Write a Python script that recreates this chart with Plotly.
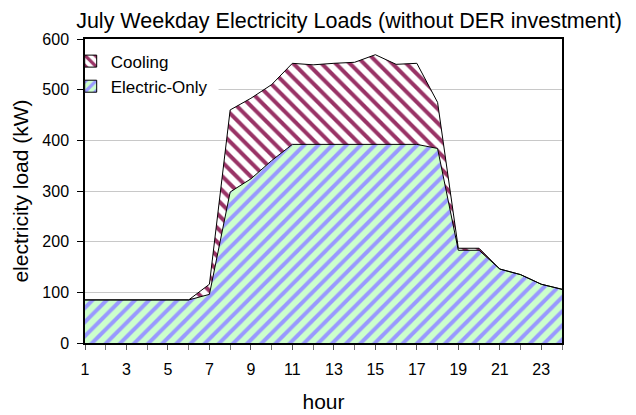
import plotly.graph_objects as go

hours = list(range(1, 25))
electric_only = [85, 85, 85, 85, 85, 85, 96, 298, 324, 360, 392, 392,
                 392, 392, 392, 392, 392, 384, 183, 183, 146, 135, 116, 106]
cooling = [0, 0, 0, 0, 0, 0, 20, 162, 159, 150, 160, 157,
           160, 162, 177, 158, 160, 91, 4, 4, 0, 0, 0, 0]
x_tick_labels = [str(h) for h in range(1, 24, 2)]
y_ticks = [0, 100, 200, 300, 400, 500, 600]

COOL_FG, COOL_BG = "#993366", "#FFFFFF"
ELEC_FG, ELEC_BG = "#9999FF", "#CCFFCC"

fig = go.Figure()
fig.add_trace(go.Scatter(
    x=hours, y=electric_only, name="Electric-Only", mode="lines",
    stackgroup="one", line=dict(color="black", width=1),
    fillcolor=ELEC_BG, showlegend=False,
    fillpattern=dict(shape="/", bgcolor=ELEC_BG, fgcolor=ELEC_FG,
                     fgopacity=1, size=10, solidity=0.4),
))
fig.add_trace(go.Scatter(
    x=hours, y=cooling, name="Cooling", mode="lines",
    stackgroup="one", line=dict(color="black", width=1),
    fillcolor=COOL_BG, showlegend=False,
    fillpattern=dict(shape="\\", bgcolor=COOL_BG, fgcolor=COOL_FG,
                     fgopacity=1, size=10, solidity=0.4),
))
# legend-only entries (square patterned swatches)
fig.add_trace(go.Bar(
    x=[None], y=[None], name="Cooling",
    marker=dict(color=COOL_BG, line=dict(color="black", width=1),
                pattern=dict(shape="\\", bgcolor=COOL_BG, fgcolor=COOL_FG,
                             fgopacity=1, size=9, solidity=0.45)),
))
fig.add_trace(go.Bar(
    x=[None], y=[None], name="Electric-Only",
    marker=dict(color=ELEC_BG, line=dict(color="black", width=1),
                pattern=dict(shape="/", bgcolor=ELEC_BG, fgcolor=ELEC_FG,
                             fgopacity=1, size=9, solidity=0.45)),
))

fig.update_layout(
    width=628, height=407,
    margin=dict(l=77, r=74, t=31, b=72, autoexpand=False),
    paper_bgcolor="white", plot_bgcolor="white",
    font=dict(family="Liberation Sans, Arial, sans-serif", size=17, color="black"),
    title=dict(text="July Weekday Electricity Loads (without DER investment)",
               x=0.543, xanchor="center", y=0.9705, yanchor="middle",
               font=dict(size=21.5)),
    showlegend=True,
    legend=dict(x=-0.03, y=0.985, xanchor="left", yanchor="top",
                traceorder="normal", bgcolor="rgba(0,0,0,0)",
                font=dict(size=17), itemwidth=30),
    shapes=[dict(type="rect", xref="paper", yref="paper", x0=0.003, x1=0.28,
                 y0=0.8, y1=0.99, fillcolor="white", line=dict(width=0),
                 layer="above")],
)
fig.update_xaxes(
    type="linear", range=[1, 24], tickmode="array", tickvals=list(range(1, 24, 2)),
    ticktext=x_tick_labels, ticks="outside", ticklen=5, tickcolor="#555555",
    minor=dict(tickvals=hours, ticks="outside", ticklen=5, tickcolor="#777777"),
    showgrid=False, showline=True, linecolor="black", linewidth=1.5,
    mirror=True, title=dict(text="hour", font=dict(size=21), standoff=17),
    tickfont=dict(size=16), zeroline=False, ticklabelstandoff=6,
)
fig.update_yaxes(
    range=[0, 600], tickvals=y_ticks, ticks="outside", ticklen=6,
    tickcolor="black", showgrid=True, gridcolor="#C8C8C8", gridwidth=1,
    showline=True, linecolor="black", linewidth=1.5, mirror=True,
    title=dict(text="electricity load (kW)", font=dict(size=21), standoff=8),
    tickfont=dict(size=16), zeroline=False, ticklabelstandoff=5,
)
fig.write_html("out.html")
